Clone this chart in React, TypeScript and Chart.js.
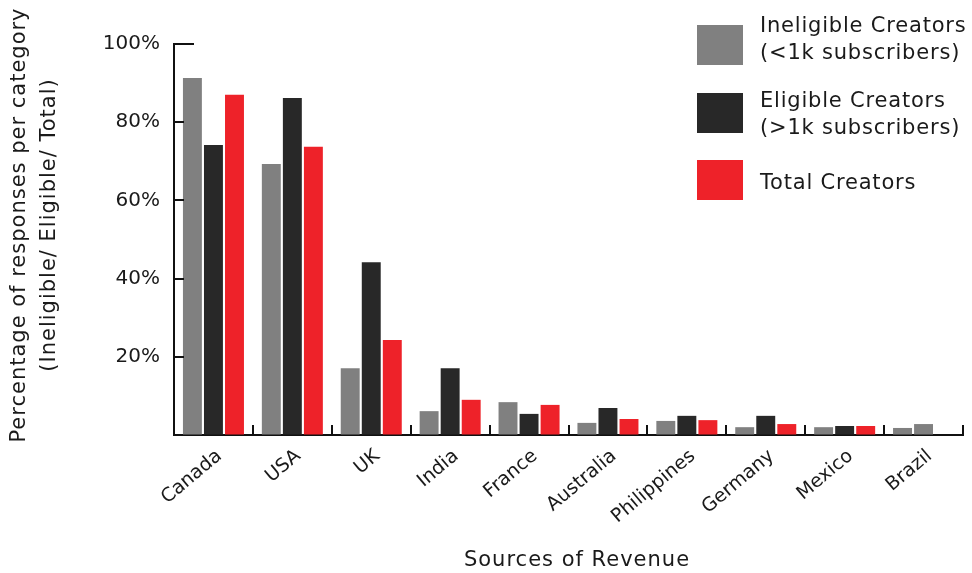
import React, { useEffect, useRef } from 'react';
import { Chart, registerables } from 'chart.js';
Chart.register(...registerables);

const countries = ['Canada', 'USA', 'UK', 'India', 'France', 'Australia', 'Philippines', 'Germany', 'Mexico', 'Brazil'];
const ineligible = [91.3, 69.3, 17.1, 6.1, 8.4, 3.1, 3.6, 2.0, 2.0, 1.8];
const eligible = [74.2, 86.2, 44.2, 17.1, 5.4, 6.9, 4.9, 4.9, 2.3, 2.8];
const total = [87.0, 73.7, 24.3, 9.0, 7.7, 4.1, 3.8, 2.8, 2.3, 0];
const yTickValues = [0, 20, 40, 60, 80, 100];

const yTitleLines = ['Percentage of responses per category', '(Ineligible/ Eligible/ Total)'];
const xTitle = 'Sources of Revenue';

const GRAY = '#808080';
const DARK = '#282828';
const RED = '#ee2229';
const eligibleColors = countries.map((c) => (c === 'Brazil' ? GRAY : DARK));

const legendItems = [
  { color: GRAY, lines: ['Ineligible Creators', '(<1k subscribers)'] },
  { color: DARK, lines: ['Eligible Creators', '(>1k subscribers)'] },
  { color: RED, lines: ['Total Creators'] },
];

const FONT = '"DejaVu Sans", sans-serif';
const TEXT = '#1a1a1a';

const decorations = {
  id: 'decorations',
  afterDatasetsDraw(chart: any) {
    const { ctx, chartArea, scales } = chart;
    const x = scales.x;
    const y = scales.y;
    ctx.save();
    ctx.strokeStyle = '#111';
    ctx.lineWidth = 2;
    const n = countries.length;
    const half = (x.getPixelForValue(1) - x.getPixelForValue(0)) / 2;
    for (let i = 1; i <= n; i++) {
      const px = Math.round(x.getPixelForValue(i) - half);
      ctx.beginPath();
      ctx.moveTo(px, chartArea.bottom);
      ctx.lineTo(px, chartArea.bottom - 10);
      ctx.stroke();
    }
    yTickValues.forEach((v) => {
      if (v === 0) return;
      const py = Math.round(y.getPixelForValue(v));
      const len = v === 100 ? 20 : 10;
      ctx.beginPath();
      ctx.moveTo(chartArea.left, py);
      ctx.lineTo(chartArea.left + len, py);
      ctx.stroke();
    });
    ctx.restore();
  },
  afterDraw(chart: any) {
    const { ctx } = chart;
    ctx.save();
    ctx.fillStyle = TEXT;
    ctx.font = '21px ' + FONT;
    (ctx as any).letterSpacing = '1px';
    ctx.textAlign = 'center';
    ctx.textBaseline = 'middle';
    // y title
    yTitleLines.forEach((line, i) => {
      ctx.save();
      ctx.translate(20 + i * 30, 225);
      ctx.rotate(-Math.PI / 2);
      ctx.fillText(line, 0, 0);
      ctx.restore();
    });
    // x title
    ctx.fillText(xTitle, 577, 561);
    ctx.restore();
  },
};

export default function App() {
  const ref = useRef<HTMLCanvasElement | null>(null);
  useEffect(() => {
    if (!ref.current) return;
    const chart = new Chart(ref.current, {
      type: 'bar',
      data: {
        labels: countries,
        datasets: [
          { label: 'Ineligible Creators (<1k subscribers)', data: ineligible, backgroundColor: GRAY },
          { label: 'Eligible Creators (>1k subscribers)', data: eligible, backgroundColor: eligibleColors },
          { label: 'Total Creators', data: total, backgroundColor: RED },
        ],
      },
      options: {
        animation: false,
        responsive: true,
        maintainAspectRatio: false,
        layout: { padding: { top: 44, right: 9, left: 0, bottom: 0 } },
        plugins: { legend: { display: false }, tooltip: { enabled: false } },
        scales: {
          x: {
            grid: { display: true, drawOnChartArea: false, drawTicks: false },
            border: { display: true, color: '#111', width: 2 },
            ticks: {
              autoSkip: false,
              maxRotation: 40,
              minRotation: 40,
              padding: 10,
              labelOffset: 6,
              color: TEXT,
              font: { family: FONT, size: 19 },
            },
            afterFit: (scale: any) => {
              scale.height = 138;
            },
          },
          y: {
            min: 0,
            max: 100,
            grid: { display: true, drawOnChartArea: false, drawTicks: false },
            border: { display: true, color: '#111', width: 2 },
            afterBuildTicks: (scale: any) => {
              scale.ticks = yTickValues.map((v) => ({ value: v }));
            },
            ticks: {
              padding: 14,
              color: TEXT,
              font: { family: FONT, size: 20 },
              callback: (v: any) => (Number(v) === 0 ? '' : v + '%'),
            },
            afterFit: (scale: any) => {
              scale.width = 174;
            },
          },
        },
      },
      plugins: [decorations],
    });
    return () => chart.destroy();
  }, []);

  const squareTops = [25, 93, 160];
  const textTops = [12, 87, 169];
  return (
    <div style={{ position: 'fixed', left: 0, top: 0, width: 972, height: 573, background: '#fff' }}>
      <canvas ref={ref} />
      {legendItems.map((it, i) => (
        <React.Fragment key={i}>
          <div
            style={{ position: 'absolute', left: 697, top: squareTops[i], width: 46, height: 40, background: it.color }}
          />
          <div
            style={{
              position: 'absolute',
              left: 760,
              top: textTops[i],
              fontFamily: FONT,
              fontSize: 21,
              letterSpacing: '0.8px',
              lineHeight: '27px',
              color: TEXT,
              whiteSpace: 'nowrap',
            }}
          >
            {it.lines.map((l, j) => (
              <div key={j}>{l}</div>
            ))}
          </div>
        </React.Fragment>
      ))}
    </div>
  );
}
